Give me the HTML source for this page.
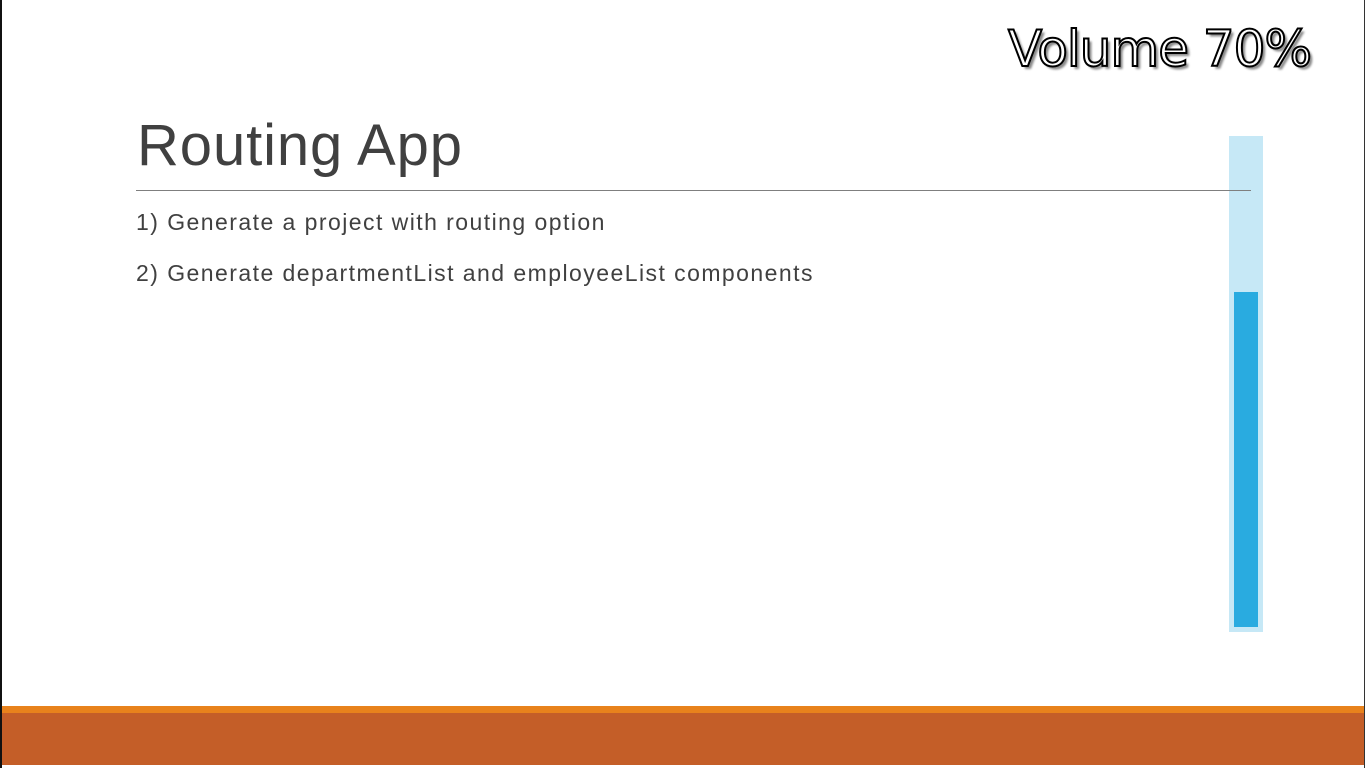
<!DOCTYPE html>
<html><head><style>
html,body{margin:0;padding:0;}
body{width:1366px;height:768px;position:relative;background:#fff;overflow:hidden;font-family:"Liberation Sans",sans-serif;}
.l{position:absolute;left:0;top:0;width:2px;height:768px;background:#111;}
.r{position:absolute;left:1364px;top:0;width:1px;height:768px;background:#333;}
.title{position:absolute;left:137px;top:112px;font-size:58px;color:#404040;letter-spacing:0.9px;}
.hr{position:absolute;left:136px;top:190px;width:1115px;height:1px;background:#7f7f7f;z-index:2;}
.t{position:absolute;left:136px;font-size:23px;color:#404040;letter-spacing:1.45px;}
.vol{position:absolute;left:1008px;top:20px;font-size:50px;font-family:"DejaVu Sans",sans-serif;color:#fff;-webkit-text-stroke:2px #000;text-shadow:3px 3px 2px #888;letter-spacing:-1px;}
.bg{position:absolute;left:1229px;top:136px;width:34px;height:496px;background:#c6e8f6;}
.bar{position:absolute;left:1234px;top:292px;width:24px;height:335px;background:#29abe0;}
.o1{position:absolute;left:2px;top:706px;width:1362px;height:7px;background:#e8821c;}
.o2{position:absolute;left:2px;top:713px;width:1362px;height:52px;background:#c45e28;}
</style></head><body>
<div class="l"></div><div class="r"></div>
<div class="title">Routing App</div>
<div class="bg"></div><div class="bar"></div>
<div class="hr"></div>
<div class="t" style="top:209px">1) Generate a project with routing option</div>
<div class="t" style="top:260px">2) Generate departmentList and employeeList components</div>
<div class="vol">Volume 70%</div>
<div class="o1"></div><div class="o2"></div>
</body></html>
